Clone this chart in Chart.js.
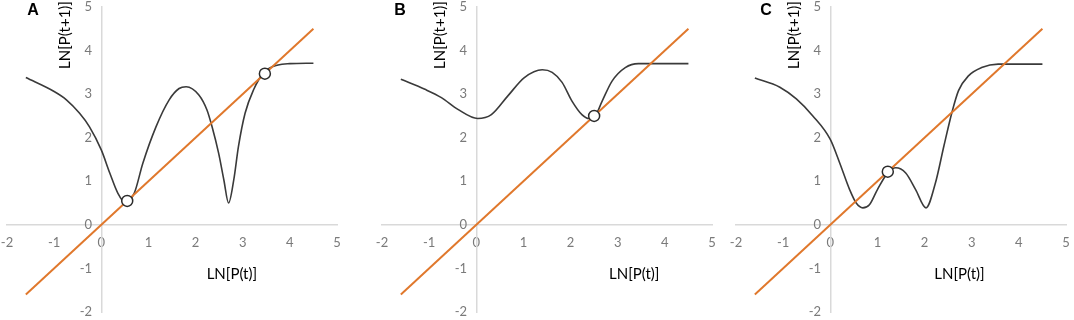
<!DOCTYPE html>
<html>
<head>
<meta charset="utf-8">
<script src="https://cdn.jsdelivr.net/npm/chart.js@4"></script>
<style>
  body { margin: 0; background: #fff; width: 1074px; height: 320px; position: relative; overflow: hidden; }
  canvas { position: absolute; top: 0; }
</style>
</head>
<body>
<canvas id="chartA" width="344" height="320" style="left:0px"></canvas>
<canvas id="chartB" width="344" height="320" style="left:375px"></canvas>
<canvas id="chartC" width="344" height="320" style="left:729px"></canvas>
<script>
// tick values on both axes
const xTickValues = [-2, -1, 0, 1, 2, 3, 4, 5];
const yTickValues = [-2, -1, 0, 1, 2, 3, 4, 5];

// 1:1 line  LN[P(t+1)] = LN[P(t)]
const diagX = [-1.6, 4.5];
const diagY = [-1.6, 4.5];

// panel A curve
const curveAx = [-1.6, -1.0, -0.74, -0.46, -0.25, 0, 0.18, 0.35, 0.5, 0.7, 0.88, 1.16, 1.44, 1.65, 1.8, 2.07, 2.24, 2.35, 2.49, 2.6, 2.7, 2.81, 2.91, 3.05, 3.23, 3.45, 3.75, 4.0, 4.5];
const curveAy = [3.38, 3.06, 2.87, 2.56, 2.25, 1.72, 1.19, 0.73, 0.52, 0.73, 1.41, 2.25, 2.87, 3.13, 3.17, 2.98, 2.64, 2.25, 1.64, 1.03, 0.5, 1.03, 1.8, 2.56, 3.1, 3.5, 3.67, 3.7, 3.71];
const eqAx = [0.55, 3.47];

// panel B curve
const curveBx = [-1.6, -1.09, -0.74, -0.39, 0.03, 0.32, 0.67, 1.02, 1.4, 1.61, 1.82, 2.03, 2.24, 2.39, 2.51, 2.67, 2.88, 3.16, 3.44, 4.0, 4.5];
const curveBy = [3.34, 3.11, 2.92, 2.65, 2.44, 2.53, 2.96, 3.38, 3.56, 3.5, 3.27, 2.84, 2.53, 2.44, 2.48, 2.84, 3.3, 3.61, 3.7, 3.7, 3.7];
const eqBx = [2.5];

// panel C curve
const curveCx = [-1.6, -1.07, -0.72, -0.37, 0, 0.2, 0.41, 0.55, 0.69, 0.83, 1.0, 1.23, 1.39, 1.6, 1.81, 2.03, 2.23, 2.41, 2.58, 2.72, 2.93, 3.21, 3.56, 4.0, 4.5];
const curveCy = [3.37, 3.16, 2.89, 2.5, 1.96, 1.42, 0.81, 0.5, 0.39, 0.46, 0.81, 1.21, 1.31, 1.19, 0.81, 0.39, 0.96, 1.81, 2.58, 3.08, 3.42, 3.61, 3.69, 3.69, 3.69];
const eqCx = [1.22];

const FONT = 'Lato, "Open Sans", sans-serif';

// letter, y title and x title drawn on the canvas
const panelText = {
    id: 'panelText',
    afterDraw(chart, args, opts) {
        const ctx = chart.ctx;
        const sx = chart.scales.x, sy = chart.scales.y;
        ctx.save();
        ctx.fillStyle = '#000';
        ctx.textAlign = 'center';
        ctx.textBaseline = 'middle';
        ctx.font = 'bold 16px "Liberation Sans", Arial, sans-serif';
        ctx.fillText(opts.letter, opts.letterX, 11);

        ctx.font = '15px ' + FONT;
        ctx.fillText('LN[P(t)]', sx.getPixelForValue(opts.xTitleAt), sy.getPixelForValue(-1.12));

        ctx.translate(sx.getPixelForValue(0) - 36, 35);
        ctx.rotate(-Math.PI / 2);
        ctx.fillText('LN[P(t+1)]', 0, 0);
        ctx.restore();
    }
};

// the axes cross at 0, so they should not push the plot area inwards
function noScalePadding(scale) {
    scale.paddingLeft = 0;
    scale.paddingRight = 0;
    scale.paddingTop = 0;
    scale.paddingBottom = 0;
}

function makePanel(canvasId, cx, cy, eqx, text) {
    const tickSetup = values => scale => { scale.ticks = values.map(v => ({ value: v })); };
    return new Chart(document.getElementById(canvasId), {
        type: 'scatter',
        data: {
            datasets: [
                {
                    data: eqx.map(v => ({ x: v, y: v })),
                    showLine: false,
                    pointRadius: 5.5,
                    pointBackgroundColor: '#fff',
                    pointBorderColor: '#2b2b2b',
                    pointBorderWidth: 1.5,
                    order: 0
                },
                {
                    data: diagX.map((v, i) => ({ x: v, y: diagY[i] })),
                    showLine: true,
                    borderColor: '#e0782c',
                    borderWidth: 2,
                    pointRadius: 0,
                    order: 1
                },
                {
                    data: cx.map((v, i) => ({ x: v, y: cy[i] })),
                    showLine: true,
                    borderColor: '#3a3a3a',
                    borderWidth: 1.6,
                    pointRadius: 0,
                    cubicInterpolationMode: 'monotone',
                    order: 2
                }
            ]
        },
        options: {
            responsive: false,
            animation: false,
            layout: { padding: { left: 7, right: 5, top: 7, bottom: 8 } },
            plugins: {
                legend: { display: false },
                tooltip: { enabled: false },
                panelText: text
            },
            scales: {
                x: {
                    type: 'linear',
                    min: -2, max: 5,
                    position: { y: 0 },
                    afterBuildTicks: tickSetup(xTickValues),
                    afterFit: noScalePadding,
                    grid: { display: false, drawTicks: false },
                    border: { color: '#d9d9d9', width: 1.5 },
                    ticks: { color: '#7a7a7a', font: { family: FONT, size: 13 }, padding: 10, maxRotation: 0, autoSkip: false }
                },
                y: {
                    type: 'linear',
                    min: -2, max: 5,
                    position: { x: 0 },
                    afterBuildTicks: tickSetup(yTickValues),
                    afterFit: noScalePadding,
                    grid: { display: false, drawTicks: false },
                    border: { color: '#d9d9d9', width: 1.5 },
                    // labels of a crossing y axis sit right on the line, so keep a gap after the number
                    ticks: { color: '#7a7a7a', font: { family: FONT, size: 13 }, autoSkip: false,
                             callback: v => v + '\u2007\u2009' }
                }
            }
        },
        plugins: [panelText]
    });
}

makePanel('chartA', curveAx, curveAy, eqAx, { letter: 'A', letterX: 33, xTitleAt: 2.77 });
makePanel('chartB', curveBx, curveBy, eqBx, { letter: 'B', letterX: 25, xTitleAt: 3.35 });
makePanel('chartC', curveCx, curveCy, eqCx, { letter: 'C', letterX: 37, xTitleAt: 2.74 });
</script>
</body>
</html>
